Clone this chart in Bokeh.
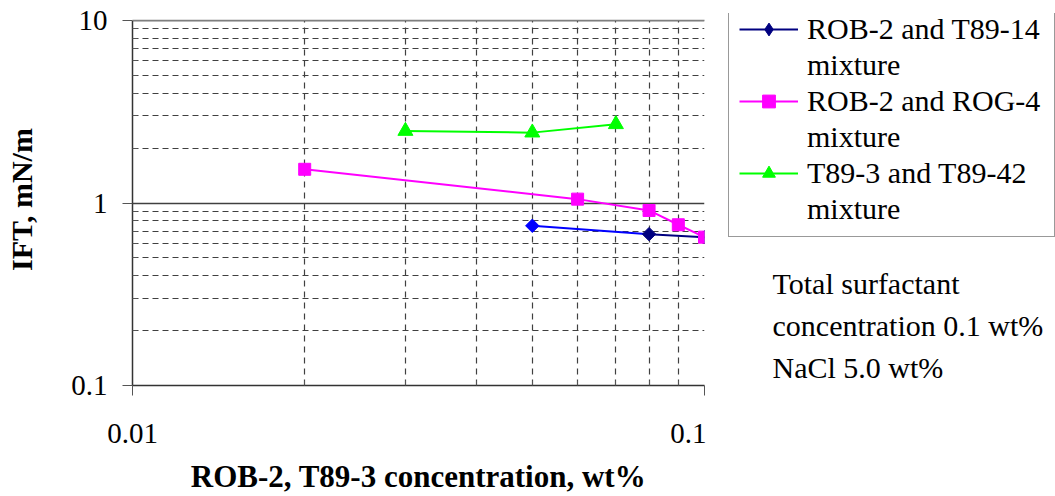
from bokeh.plotting import figure
from bokeh.models import (FixedTicker, NumeralTickFormatter, Legend, LegendItem, Label,
                          BoxAnnotation, Span)
from bokeh.layouts import row
from bokeh.embed import file_html
from bokeh.resources import INLINE

# ---- data ----
rob_t89_x = [0.05, 0.08, 0.1]
rob_t89_y = [0.75, 0.675, 0.65]

rob_rog_x = [0.02, 0.06, 0.08, 0.09, 0.1]
rob_rog_y = [1.53, 1.05, 0.91, 0.76, 0.65]

t89_x = [0.03, 0.05, 0.07]
t89_y = [2.48, 2.43, 2.70]

series_names = ["ROB-2 and T89-14", "ROB-2 and ROG-4", "T89-3 and T89-42"]
series_suffix = "mixture"

x_major = [0.01, 0.1]
x_minor = [0.02, 0.03, 0.04, 0.05, 0.06, 0.07, 0.08, 0.09]
y_major = [0.1, 1, 10]
y_minor = [0.2, 0.3, 0.4, 0.5, 0.6, 0.7, 0.8, 0.9, 2, 3, 4, 5, 6, 7, 8, 9]
y_top = 10

note_lines = ["Total surfactant", "concentration 0.1  wt%", "NaCl 5.0 wt%"]

x_title = "ROB-2, T89-3 concentration, wt%"
y_title = "IFT, mN/m"

FONT = "Liberation Serif"
FS = "29px"

# frame spans 13..385 px; the 0.1..10 decades occupy 20..385 px
p = figure(width=706, height=496, x_axis_type="log", y_axis_type="log",
           x_range=(0.01, 0.1), y_range=(0.1, 10 ** (-1 + 2 * 372 / 365)),
           output_backend="svg", toolbar_location=None)
p.min_border_left = 132
p.min_border_right = 2
p.min_border_top = 13
p.min_border_bottom = 111
p.background_fill_color = "white"
p.border_fill_color = "white"
p.outline_line_color = None

# axes
for ax in (p.xaxis[0], p.yaxis[0]):
    ax.formatter = NumeralTickFormatter(format="0.[00]")
    ax.major_label_text_font = FONT
    ax.major_label_text_font_size = FS
    ax.major_label_text_color = "black"
    ax.axis_label_text_font = FONT
    ax.axis_label_text_font_style = "bold"
    ax.axis_label_text_color = "black"
    ax.axis_line_color = "#333333"
    ax.axis_line_width = 1.5
    ax.major_tick_line_color = "#555555"
    ax.minor_tick_line_color = "#555555"
    ax.major_tick_out = 10
    ax.major_tick_in = 0
    ax.minor_tick_in = 5
    ax.minor_tick_out = 0

p.yaxis[0].bounds = (y_major[0], y_top)
p.xaxis[0].axis_label_text_font_size = "31px"
p.yaxis[0].axis_label_text_font_size = "30px"
p.xaxis[0].ticker = FixedTicker(ticks=x_major, minor_ticks=x_minor)
p.yaxis[0].ticker = FixedTicker(ticks=y_major, minor_ticks=y_minor)
p.xaxis[0].axis_label = x_title
p.yaxis[0].axis_label = y_title
p.xaxis[0].major_label_standoff = 28
p.xaxis[0].axis_label_standoff = 13
p.yaxis[0].major_label_standoff = 15
p.yaxis[0].axis_label_standoff = 30

# grids
p.xgrid[0].ticker = p.xaxis[0].ticker
p.ygrid[0].ticker = p.yaxis[0].ticker
p.xgrid.grid_line_color = "#808080"
p.xgrid.grid_line_width = 1.5
p.xgrid.minor_grid_line_color = "#404040"
p.xgrid.minor_grid_line_dash = "6 5"
p.xgrid.minor_grid_line_width = 1.2
p.ygrid.grid_line_color = "#404040"
p.ygrid.grid_line_width = 1.5
p.ygrid.minor_grid_line_color = "#404040"
p.ygrid.minor_grid_line_dash = "6 4"
p.ygrid.minor_grid_line_width = 1.2

# white strip above the top of the plot area, and the grey top border
p.add_layout(BoxAnnotation(bottom=y_top, fill_color="white", fill_alpha=1,
                           line_color=None))
p.add_layout(Span(location=y_top, dimension="width", line_color="#808080",
                  line_width=1.5))

# series
p.line(rob_t89_x[:2], rob_t89_y[:2], line_color="#0000FF", line_width=2)
p.line(rob_t89_x[1:], rob_t89_y[1:], line_color="#000080", line_width=2)
p.scatter(rob_t89_x[:1], rob_t89_y[:1], marker="square", angle=0.785398,
          size=9.5, fill_color="#0000FF", line_color="#0000FF")
p.scatter(rob_t89_x[1:], rob_t89_y[1:], marker="square", angle=0.785398,
          size=9.5, fill_color="#000080", line_color="#000080")

p.line(rob_rog_x, rob_rog_y, line_color="#FF00FF", line_width=2)
p.scatter(rob_rog_x, rob_rog_y, marker="square", size=12,
          fill_color="#FF00FF", line_color="#FF00FF")

p.line(t89_x, t89_y, line_color="#00FF00", line_width=2)
p.scatter(t89_x, t89_y, marker="triangle", size=15,
          fill_color="#00FF00", line_color="#00FF00")

# ---- legend / note panel (its glyphs lie outside its ranges; only legend swatches show) ----
p2 = figure(width=349, height=496, x_range=(100, 101), y_range=(100, 101),
            output_backend="svg", toolbar_location=None)
p2.axis.visible = False
p2.grid.visible = False
p2.outline_line_color = None
p2.min_border_left = 0
p2.min_border_right = 0
p2.min_border_top = 13
p2.min_border_bottom = 111

e1l = p2.line(rob_t89_x, rob_t89_y, line_color="#000080", line_width=2)
e1m = p2.scatter(rob_t89_x, rob_t89_y, marker="diamond", size=15,
                 fill_color="#000080", line_color="#000080")
e2l = p2.line(rob_rog_x, rob_rog_y, line_color="#FF00FF", line_width=2)
e2m = p2.scatter(rob_rog_x, rob_rog_y, marker="square", size=10,
                 fill_color="#FF00FF", line_color="#FF00FF")
e3l = p2.line(t89_x, t89_y, line_color="#00FF00", line_width=2)
e3m = p2.scatter(t89_x, t89_y, marker="triangle", size=13,
                 fill_color="#00FF00", line_color="#00FF00")

swatches = [[e1l, e1m], [e2l, e2m], [e3l, e3m]]
items = []
for name, rs in zip(series_names, swatches):
    items.append(LegendItem(label=name, renderers=rs))
    items.append(LegendItem(label=series_suffix, renderers=[]))

legend = Legend(items=items, location=(22, 148))
legend.label_text_font = FONT
legend.label_text_font_size = "30px"
legend.label_text_color = "black"
legend.border_line_color = "#333333"
legend.border_line_width = 1.3
legend.background_fill_color = "white"
legend.background_fill_alpha = 1
legend.padding = 10
legend.spacing = 2
legend.margin = 0
legend.glyph_width = 59
legend.glyph_height = 32
legend.label_height = 32
legend.label_standoff = 9
legend.label_width = 237
p2.add_layout(legend, "center")

note_y = [102, 60, 18]
for t, yy in zip(note_lines, note_y):
    p2.add_layout(Label(x=66, y=yy, x_units="screen", y_units="screen", text=t,
                        text_font=FONT, text_font_size="30px", text_color="black",
                        text_baseline="alphabetic", text_align="left"))

layout = row(p, p2)
open("out.html", "w").write(file_html(layout, INLINE))
